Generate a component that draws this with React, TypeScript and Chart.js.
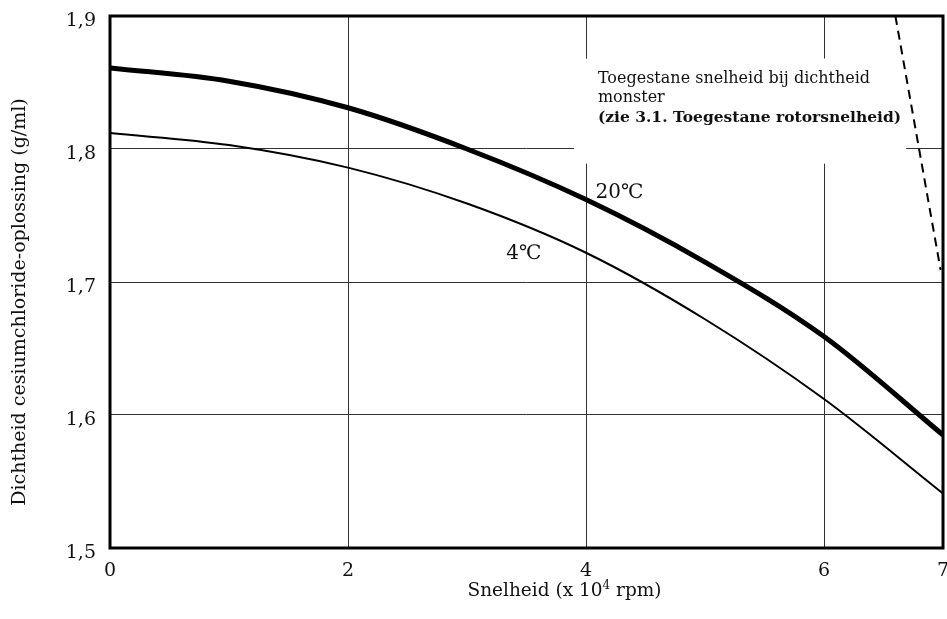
import React, { useEffect, useRef } from "react";
import { Chart, registerables } from "chart.js";

Chart.register(...registerables);

// ---- data ----
const speed20 = [0, 1, 2, 3, 4, 5, 6, 7];
const density20 = [1.861, 1.851, 1.831, 1.8, 1.762, 1.715, 1.659, 1.585];
const speed4 = [0, 1, 2, 3, 4, 5, 6, 7];
const density4 = [1.812, 1.803, 1.786, 1.759, 1.722, 1.672, 1.612, 1.541];
const limitSpeed = [6.6, 6.98];
const limitDensity = [1.9, 1.709];
const xTicks = [0, 2, 4, 6, 7];
const yTicks = [1.5, 1.6, 1.7, 1.8, 1.9];
const label20 = "20℃";
const label4 = "4℃";
const noteLines = ["Toegestane snelheid bij dichtheid", "monster", "(zie 3.1. Toegestane rotorsnelheid)"];
const xTitle = "Snelheid (x 10";
const xTitleSup = "4";
const xTitleEnd = " rpm)";
const yTitle = "Dichtheid cesiumchloride-oplossing (g/ml)";

const SERIF = "'DejaVu Serif', 'Noto Sans CJK JP', serif";

const toPts = (xs: number[], ys: number[]) => xs.map((x, i) => ({ x, y: ys[i] }));

const decorPlugin = {
  id: "decor",
  beforeDatasetsDraw(chart: any) {
    const { ctx, scales } = chart;
    const xs = scales.x;
    const ys = scales.y;
    ctx.save();
    const bx0 = xs.getPixelForValue(3.9);
    const bx1 = xs.getPixelForValue(6.69);
    const by0 = ys.getPixelForValue(1.868);
    const by1 = ys.getPixelForValue(1.789);
    ctx.fillStyle = "#fff";
    ctx.fillRect(bx0, by0, bx1 - bx0, by1 - by0);
    ctx.fillStyle = "#111";
    ctx.textAlign = "left";
    ctx.textBaseline = "alphabetic";
    const tx = xs.getPixelForValue(4.1);
    ctx.font = `16px ${SERIF}`;
    ctx.fillText(noteLines[0], tx, ys.getPixelForValue(1.85));
    ctx.fillText(noteLines[1], tx, ys.getPixelForValue(1.835));
    ctx.font = `bold 15.5px ${SERIF}`;
    ctx.fillText(noteLines[2], tx, ys.getPixelForValue(1.82));
    ctx.font = `20px ${SERIF}`;
    ctx.fillText(label20, xs.getPixelForValue(4.08), ys.getPixelForValue(1.763));
    ctx.fillText(label4, xs.getPixelForValue(3.33), ys.getPixelForValue(1.717));
    ctx.restore();
  },
  afterDatasetsDraw(chart: any) {
    const { ctx, chartArea } = chart;
    ctx.save();
    ctx.strokeStyle = "#000";
    ctx.lineWidth = 3;
    ctx.strokeRect(chartArea.left, chartArea.top, chartArea.right - chartArea.left, chartArea.bottom - chartArea.top);
    ctx.restore();
  },
  afterDraw(chart: any) {
    const { ctx, chartArea } = chart;
    ctx.save();
    ctx.fillStyle = "#111";
    ctx.textBaseline = "alphabetic";
    const big = `18.5px ${SERIF}`;
    const small = `12px ${SERIF}`;
    ctx.font = big;
    const w1 = ctx.measureText(xTitle).width;
    ctx.font = small;
    const w2 = ctx.measureText(xTitleSup).width;
    ctx.font = big;
    const w3 = ctx.measureText(xTitleEnd).width;
    const total = w1 + w2 + w3;
    const cx = (chartArea.left + chartArea.right) / 2 + 38;
    const x0 = cx - total / 2;
    const base = 596;
    ctx.textAlign = "left";
    ctx.fillText(xTitle, x0, base);
    ctx.font = small;
    ctx.fillText(xTitleSup, x0 + w1, base - 7);
    ctx.font = big;
    ctx.fillText(xTitleEnd, x0 + w1 + w2, base);
    ctx.translate(20, (chartArea.top + chartArea.bottom) / 2 + 20);
    ctx.rotate(-Math.PI / 2);
    ctx.textAlign = "center";
    ctx.textBaseline = "middle";
    ctx.font = `19px ${SERIF}`;
    ctx.fillText(yTitle, 0, 0);
    ctx.restore();
  },
};

export default function App() {
  const ref = useRef<HTMLCanvasElement | null>(null);
  useEffect(() => {
    document.body.style.margin = "0";
    const canvas = ref.current!;
    const chart = new Chart(canvas, {
      type: "scatter",
      data: {
        datasets: [
          {
            label: "20°C",
            data: toPts(speed20, density20),
            showLine: true,
            borderColor: "#000",
            borderWidth: 5,
            pointRadius: 0,
            cubicInterpolationMode: "monotone",
          },
          {
            label: "4°C",
            data: toPts(speed4, density4),
            showLine: true,
            borderColor: "#000",
            borderWidth: 2,
            pointRadius: 0,
            cubicInterpolationMode: "monotone",
          },
          {
            label: "limit",
            data: toPts(limitSpeed, limitDensity),
            showLine: true,
            borderColor: "#000",
            borderWidth: 2,
            borderDash: [9, 6],
            pointRadius: 0,
          },
        ],
      },
      options: {
        animation: false,
        responsive: false,
        maintainAspectRatio: false,
        layout: { padding: { top: 16, right: 4, left: 0, bottom: 0 } },
        plugins: { legend: { display: false }, tooltip: { enabled: false } },
        scales: {
          x: {
            type: "linear",
            min: 0,
            max: 7,
            afterBuildTicks: (s: any) => {
              s.ticks = xTicks.map((v) => ({ value: v }));
            },
            afterFit: (s: any) => {
              s.height = 71;
              s.paddingLeft = 0;
              s.paddingRight = 0;
            },
            grid: { color: "#333", lineWidth: 1, drawTicks: false },
            border: { display: false },
            ticks: {
              color: "#111",
              font: { family: SERIF, size: 19 },
              padding: 12,
              maxRotation: 0,
              autoSkip: false,
              callback: (v: any) => String(v),
            },
          },
          y: {
            type: "linear",
            min: 1.5,
            max: 1.9,
            afterBuildTicks: (s: any) => {
              s.ticks = yTicks.map((v) => ({ value: v }));
            },
            afterFit: (s: any) => {
              s.width = 110;
              s.paddingTop = 0;
              s.paddingBottom = 0;
            },
            grid: { color: "#333", lineWidth: 1, drawTicks: false },
            border: { display: false },
            ticks: {
              color: "#111",
              font: { family: SERIF, size: 19 },
              padding: 14,
              labelOffset: 5,
              autoSkip: false,
              callback: (v: any) => Number(v).toFixed(1).replace(".", ","),
            },
          },
        },
      },
      plugins: [decorPlugin],
    });
    return () => chart.destroy();
  }, []);
  return (
    <div style={{ width: 947, height: 619 }}>
      <canvas ref={ref} width={947} height={619} style={{ display: "block" }} />
    </div>
  );
}
